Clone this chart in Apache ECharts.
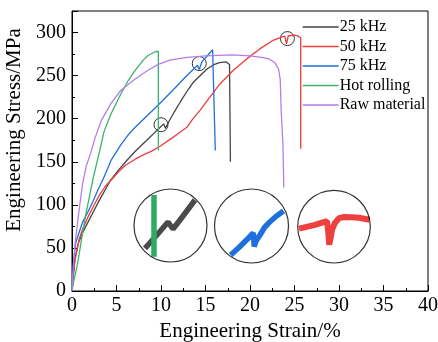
<!DOCTYPE html>
<html>
<head>
<meta charset="utf-8">
<script src="https://cdn.jsdelivr.net/npm/echarts@6/dist/echarts.min.js"></script>
<style>
  html, body { margin: 0; padding: 0; background: #fff; }
  #chart { width: 438px; height: 342px; }
</style>
</head>
<body>
<div id="chart"></div>
<script>
// stress-strain curves, [strain %, stress MPa]
const khz25 = [[0,0],[0.3,35],[0.7,55],[1.2,68],[1.8,80],[2.4,92],[3,104],[3.6,115],[4.3,128],[5.2,140],[6.2,152],[7.2,163],[8.4,175],[9.4,185],[10,191],[10.3,194],[10.5,189],[10.9,197],[11.5,208],[12.2,220],[13,233],[13.6,242],[14.5,251],[15.2,258],[16,263],[16.6,265],[17.3,266],[17.7,263],[17.8,150]]
const khz50 = [[0,0],[0.2,25],[0.4,40],[0.8,60],[1.2,72],[1.8,86],[2.4,98],[3,110],[3.7,121],[4.5,130],[5.2,138],[6,146],[7.1,153],[8,158],[8.9,162],[9.9,168],[11.3,178],[12.1,184],[12.9,190],[13.6,200],[14.4,210],[15.2,221],[16.6,240],[18.1,256],[19.7,270],[21.1,281],[22.6,291],[23.4,294],[23.9,296],[24.1,287],[24.3,296],[25,297],[25.4,296],[25.7,294],[25.7,165]]
const khz75 = [[0,0],[0.2,35],[0.4,55],[0.7,65],[1.2,80],[1.8,92],[2.4,105],[2.9,117],[3.5,130],[4,142],[4.4,152],[5.5,170],[6.3,181],[7.1,190],[8.5,204],[10,219],[11.6,236],[12.8,249],[13.3,254],[14.1,262],[14.3,257],[14.6,266],[15.2,273],[15.8,280],[16,281],[16.1,163]]
const hotRolling = [[0,0],[0.2,12],[0.5,25],[0.7,36],[1.1,62],[1.5,86],[2,112],[2.4,132],[3.1,162],[3.6,185],[4.4,206],[5.5,229],[6.3,244],[7.1,256],[8,268],[8.5,273],[9.4,278],[9.7,278],[9.7,163]]
const rawMaterial = [[0,0],[0.15,30],[0.3,50],[0.6,78],[0.9,102],[1.2,125],[1.6,145],[2.1,160],[2.6,178],[3.3,198],[4.4,218],[5.5,233],[7.1,246],[8.5,256],[9.7,263],[11,268],[12.7,271],[15,273],[18,274],[20,273],[21.5,271],[22.2,269],[22.8,265],[23.2,258],[23.4,245],[23.5,210],[23.7,170],[23.8,120]]

// marked serrations
const marks = [[10,193],[14.3,264],[24.2,293]]

// magnified insets (local units, centre = 0,0)
const inset25 = [[-25.5,-22.8],[-14,-10],[-2.5,3.5],[2.5,-3.5],[9.5,5.5],[24.5,25.5]]
const insetHot = [[-16.5,-31.2],[-16.5,30.5]]
const inset75 = [[-20.8,-29],[-12,-21],[-3,-12],[1.8,-7],[2.3,-13],[2.6,-20.5],[4.5,-15],[8.5,-9],[13,-1.5],[18.5,4.3],[25,10],[32,15]]
const inset50 = [[-35,-2],[-20,1.5],[-7,5.5],[-5.8,-5],[-4.8,-18],[-3.5,-12],[-2,-3],[1,4],[5,8.5],[10,9.7],[18,9.5],[25,9],[35.5,7]]

const names = ["25 kHz", "50 kHz", "75 kHz", "Hot rolling", "Raw material"]
const colors = ["#444444", "#ef3b3b", "#1f6fdc", "#3cb371", "#b57ee8"]

const font = "Liberation Serif"
const chart = echarts.init(document.getElementById("chart"))

const insetBoxes = [
  { left: 134, top: 189, size: 73 },
  { left: 214.5, top: 189, size: 74 },
  { left: 297.7, top: 190.4, size: 72.6 },
]

const grids = [{ left: 72, right: 10, top: 11, bottom: 51, show: true, borderColor: "#000", borderWidth: 1, outerBoundsMode: "none" }]
const xAxes = [
  {
    type: "value", gridIndex: 0, min: 0, max: 40, interval: 5,
    name: "Engineering Strain/%", nameLocation: "middle", nameGap: 29,
    nameTextStyle: { fontFamily: font, fontSize: 21, color: "#000" },
    axisLine: { lineStyle: { color: "#000" } },
    axisTick: { inside: true, length: 6, lineStyle: { color: "#000" } },
    axisLabel: { fontFamily: font, fontSize: 20, color: "#000", margin: 5 },
    splitLine: { show: false },
  },
  {
    type: "value", gridIndex: 0, min: 0, max: 40, interval: 2.5, position: "bottom",
    axisLine: { show: false }, axisLabel: { show: false }, splitLine: { show: false },
    axisTick: { inside: true, length: 3, lineStyle: { color: "#000" } },
  },
]
const yAxes = [
  {
    type: "value", gridIndex: 0, min: 0, max: 325, interval: 50,
    name: "Engineering Stress/MPa", nameLocation: "middle", nameGap: 38,
    nameTextStyle: { fontFamily: font, fontSize: 21, color: "#000", padding: [0, 0, 0, 42] },
    axisLine: { lineStyle: { color: "#000" } },
    axisTick: { inside: true, length: 6, lineStyle: { color: "#000" } },
    axisLabel: { fontFamily: font, fontSize: 20, color: "#000", margin: 6,
      formatter: (v) => (v % 50 === 0 ? v : "") },
    splitLine: { show: false },
  },
  {
    type: "value", gridIndex: 0, min: 0, max: 325, interval: 25, position: "left",
    axisLine: { show: false }, axisLabel: { show: false }, splitLine: { show: false },
    axisTick: { inside: true, length: 3, lineStyle: { color: "#000" } },
  },
]

insetBoxes.forEach((b, i) => {
  const h = b.size / 2
  grids.push({ left: b.left, top: b.top, width: b.size, height: b.size, outerBoundsMode: "none" })
  xAxes.push({ type: "value", gridIndex: i + 1, min: -h, max: h, show: false })
  yAxes.push({ type: "value", gridIndex: i + 1, min: -h, max: h, show: false })
})

const series = [khz25, khz50, khz75, hotRolling, rawMaterial].map((d, i) => ({
  name: names[i], type: "line", data: d, symbol: "none",
  xAxisIndex: 0, yAxisIndex: 0,
  lineStyle: { color: colors[i], width: 1.3 }, itemStyle: { color: colors[i] },
}))

series.push({
  name: "marks", type: "scatter", data: marks, xAxisIndex: 0, yAxisIndex: 0,
  symbol: "circle", symbolSize: 14,
  itemStyle: { color: "transparent", borderColor: "#000", borderWidth: 1 },
})

const insetLine = (d, idx, color, w, z) => ({
  type: "line", data: d, symbol: "none", xAxisIndex: idx, yAxisIndex: idx,
  lineStyle: { color: color, width: w }, z: z,
})
series.push(insetLine(inset25, 2, "#4a4a4a", 5.5, 3))
series.push(insetLine(insetHot, 2, "#2faa60", 5.5, 4))
series.push(insetLine(inset75, 3, "#1f6fdc", 5.5, 3))
series.push(insetLine(inset50, 4, "#ef4040", 6, 3))

insetBoxes.forEach((b, i) => {
  series.push({
    type: "scatter", data: [[0, 0]], xAxisIndex: i + 2, yAxisIndex: i + 2,
    symbol: "circle", symbolSize: b.size, z: 5,
    itemStyle: { color: "transparent", borderColor: "#000", borderWidth: 1.2 },
  })
})

chart.setOption({
  animation: false,
  grid: grids,
  xAxis: xAxes,
  yAxis: yAxes,
  legend: {
    data: names, orient: "vertical", left: 302, top: 19, padding: 0,
    itemWidth: 36, itemHeight: 14, itemGap: 3.5,
    itemStyle: { opacity: 0 },
    lineStyle: { width: 1.3 },
    textStyle: { fontFamily: font, fontSize: 16, color: "#000", padding: [0, 0, 0, -4] },
  },
  series: series,
})
</script>
</body>
</html>
